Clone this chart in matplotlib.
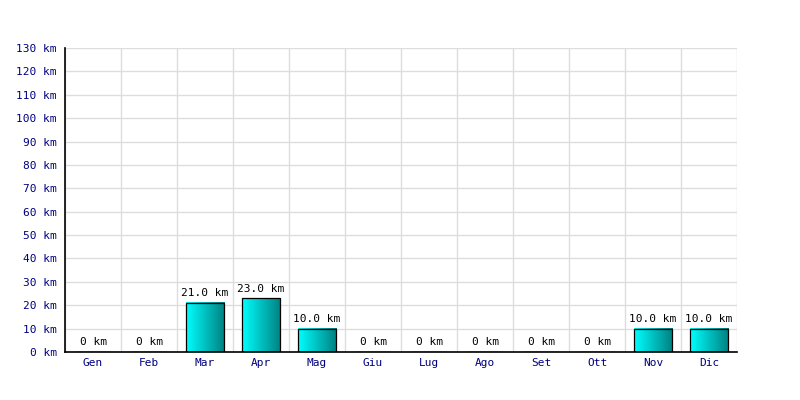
import matplotlib
matplotlib.use("Agg")
import matplotlib.pyplot as plt
import numpy as np
from matplotlib.colors import LinearSegmentedColormap

months = ["Gen", "Feb", "Mar", "Apr", "Mag", "Giu", "Lug", "Ago", "Set", "Ott", "Nov", "Dic"]
values = [0, 0, 21.0, 23.0, 10.0, 0, 0, 0, 0, 0, 10.0, 10.0]
yticks = list(range(0, 140, 10))

plt.rcParams['font.family'] = ['DejaVu Sans Mono']
fig = plt.figure(figsize=(8, 4), dpi=100)
ax = fig.add_axes([65/800, 48/400, (737-65)/800, (352-48)/400])

x = np.arange(len(months))
width = 0.68
ax.set_xlim(-0.5, len(months) - 0.5)
ax.set_ylim(0, 130)

cmap = LinearSegmentedColormap.from_list("cy", ["#00FFFF", "#008080"])
grad = np.linspace(0, 1, 256).reshape(1, -1)
bars = ax.bar(x, values, width=width, color="none", edgecolor="black", linewidth=0.9, zorder=3)
for b, v in zip(bars, values):
    if v > 0:
        x0 = b.get_x()
        ax.imshow(grad, cmap=cmap, aspect="auto", extent=[x0, x0 + width, 0, v],
                  zorder=2.5, interpolation="bilinear")
for xi, v in zip(x, values):
    lab = "0 km" if v == 0 else f"{v:.1f} km"
    ax.text(xi, v + 2.0, lab, ha="center", va="bottom", fontsize=8, color="black", zorder=4)

ax.set_xlim(-0.5, len(months) - 0.5)
ax.set_ylim(0, 130)
ax.set_xticks(x)
ax.set_xticklabels(months, fontsize=8, color="#000080")
ax.set_yticks(yticks)
ax.set_yticklabels([f"{t} km" for t in yticks], fontsize=8, color="#000080")
ax.set_xticks(np.arange(-0.5, len(months), 1), minor=True)
ax.tick_params(axis="x", which="both", length=0, pad=4)
ax.tick_params(axis="y", which="major", length=0, pad=6)
ax.grid(True, axis="y", which="major", color="#DDDDDD", linewidth=1, zorder=0)
ax.grid(True, axis="x", which="minor", color="#DDDDDD", linewidth=1, zorder=0)
ax.set_axisbelow(True)
for s in ["top", "right"]:
    ax.spines[s].set_visible(False)
ax.spines["left"].set_color("black")
ax.spines["bottom"].set_color("black")
ax.spines["left"].set_linewidth(1.2)
ax.spines["bottom"].set_linewidth(1.2)

fig.savefig("out.png", dpi=100)
